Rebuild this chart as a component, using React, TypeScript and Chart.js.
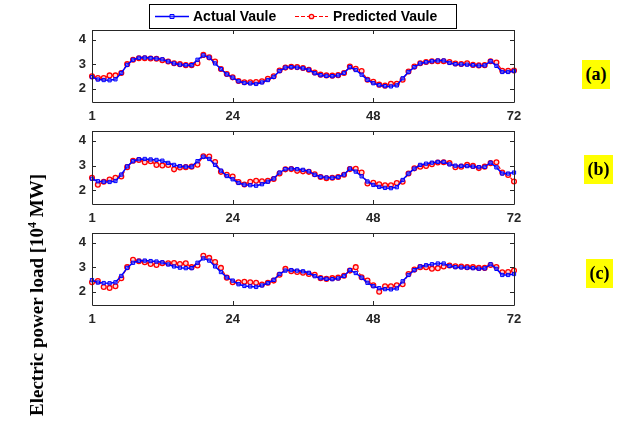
import React, { useEffect, useRef } from "react";
import { Chart, registerables } from "chart.js";

Chart.register(...registerables);

// ---- data ----
const hours = Array.from({ length: 73 }, (_, i) => i);
const xTicks = [0, 24, 48, 72];
const xTickLabels = ["1", "24", "48", "72"];
const yTicks = [2, 3, 4];

const actual = [
  2.47, 2.37, 2.35, 2.34, 2.38, 2.64, 2.97, 3.18, 3.26, 3.27, 3.25, 3.23, 3.2, 3.11, 3.03, 2.98, 2.96, 2.96,
  3.18, 3.36, 3.27, 3.03, 2.8, 2.58, 2.45, 2.3, 2.23, 2.21, 2.19, 2.25, 2.35, 2.48, 2.72, 2.86, 2.88, 2.86,
  2.83, 2.77, 2.63, 2.55, 2.52, 2.51, 2.54, 2.64, 2.88, 2.76, 2.57, 2.36, 2.22, 2.14, 2.1, 2.09, 2.13, 2.42,
  2.68, 2.88, 3.03, 3.08, 3.12, 3.15, 3.15, 3.05, 3.0, 2.99, 2.98, 2.96, 2.94, 2.95, 3.12, 2.93, 2.68, 2.68, 2.72,
];

const predA = [
  2.5, 2.43, 2.43, 2.54, 2.54, 2.64, 3.0, 3.18, 3.24, 3.24, 3.23, 3.22, 3.16, 3.11, 3.04, 3.0, 2.96, 2.96,
  3.04, 3.38, 3.28, 3.11, 2.8, 2.6, 2.46, 2.31, 2.26, 2.26, 2.27, 2.3, 2.4, 2.5, 2.74, 2.86, 2.89, 2.88,
  2.84, 2.77, 2.66, 2.57, 2.54, 2.53, 2.55, 2.64, 2.9, 2.81, 2.72, 2.36, 2.28, 2.16, 2.12, 2.2, 2.2, 2.36,
  2.7, 2.9, 3.04, 3.09, 3.12, 3.12, 3.12, 3.09, 3.03, 3.01, 3.04, 2.97, 2.95, 2.96, 3.12, 3.07, 2.73, 2.73, 2.74,
];

const predB = [
  2.51, 2.23, 2.35, 2.44, 2.51, 2.56, 2.94, 3.2, 3.23, 3.14, 3.18, 3.03, 3.01, 3.03, 2.85, 2.93, 2.94, 2.96,
  3.04, 3.38, 3.37, 3.15, 2.75, 2.63, 2.56, 2.34, 2.24, 2.35, 2.39, 2.37, 2.39, 2.46, 2.68, 2.85, 2.86, 2.79,
  2.77, 2.75, 2.65, 2.54, 2.49, 2.51, 2.54, 2.63, 2.86, 2.87, 2.72, 2.28, 2.31, 2.25, 2.21, 2.21, 2.3, 2.35,
  2.68, 2.89, 2.96, 2.99, 3.06, 3.13, 3.14, 3.1, 2.94, 2.96, 3.03, 2.99, 2.9, 2.96, 3.1, 3.14, 2.72, 2.62, 2.36,
];

const predC = [
  2.38, 2.43, 2.19, 2.15, 2.22, 2.55, 3.0, 3.3, 3.24, 3.2, 3.13, 3.09, 3.16, 3.16, 3.17, 3.13, 3.16, 3.0,
  3.07, 3.47, 3.38, 3.21, 2.97, 2.57, 2.38, 2.38, 2.4, 2.38, 2.36, 2.29, 2.36, 2.45, 2.69, 2.93, 2.83, 2.8,
  2.77, 2.72, 2.69, 2.55, 2.52, 2.55, 2.57, 2.65, 2.86, 3.0, 2.59, 2.45, 2.26, 1.99, 2.22, 2.22, 2.26, 2.3,
  2.72, 2.9, 3.0, 3.0, 2.94, 2.96, 3.03, 3.07, 3.04, 3.03, 3.0, 3.0, 2.97, 2.97, 3.09, 3.01, 2.79, 2.8, 2.86,
];

const seriesNames = ["Actual Vaule", "Predicted Vaule"];
const panelNames = ["(a)", "(b)", "(c)"];

// ---- layout ----
const W = 644;
const H = 425;
const panels = [
  { pred: predA, top: 30, bottom: 102, label: { left: 582, top: 60, w: 28 } },
  { pred: predB, top: 131, bottom: 204, label: { left: 584, top: 155, w: 29 } },
  { pred: predC, top: 233, bottom: 305, label: { left: 586, top: 259, w: 27 } },
];
const AREA_LEFT = 92;
const AREA_RIGHT = 514;
const SANS = '"Liberation Sans", Arial, sans-serif';
const SERIF = '"Liberation Serif", "Times New Roman", serif';
const AXIS_COLOR = "#262626";

const boxPlugin = {
  id: "matlabBox",
  afterDraw(chart: any) {
    const { ctx, chartArea: a, scales } = chart;
    ctx.save();
    ctx.strokeStyle = AXIS_COLOR;
    ctx.lineWidth = 1;
    ctx.beginPath();
    ctx.rect(Math.round(a.left) + 0.5, Math.round(a.top) + 0.5, Math.round(a.right - a.left), Math.round(a.bottom - a.top));
    ctx.stroke();
    const tl = 4;
    ctx.beginPath();
    scales.y.ticks.forEach((t: any) => {
      const y = Math.round(scales.y.getPixelForValue(t.value)) + 0.5;
      ctx.moveTo(a.left, y);
      ctx.lineTo(a.left + tl, y);
      ctx.moveTo(a.right, y);
      ctx.lineTo(a.right - tl, y);
    });
    scales.x.ticks.forEach((t: any) => {
      const x = Math.round(scales.x.getPixelForValue(t.value)) + 0.5;
      ctx.moveTo(x, a.bottom);
      ctx.lineTo(x, a.bottom - tl);
      ctx.moveTo(x, a.top);
      ctx.lineTo(x, a.top + tl);
    });
    ctx.stroke();
    ctx.restore();
  },
};

const legendPlugin = {
  id: "matlabLegend",
  afterDraw(chart: any) {
    const ctx = chart.ctx;
    const ds = chart.data.datasets;
    ctx.save();
    const bx = 149, by = 4, bw = 307, bh = 24;
    ctx.fillStyle = "#ffffff";
    ctx.fillRect(bx, by, bw, bh);
    ctx.strokeStyle = "#000000";
    ctx.lineWidth = 1;
    ctx.strokeRect(bx + 0.5, by + 0.5, bw, bh);
    const cy = by + bh / 2 + 0.5;
    const items = [
      { x0: 155, x1: 189, tx: 193 },
      { x0: 295, x1: 328, tx: 333 },
    ];
    items.forEach((it, k) => {
      const d = ds[k];
      ctx.strokeStyle = d.borderColor;
      ctx.lineWidth = d.borderWidth;
      ctx.setLineDash(d.borderDash || []);
      ctx.beginPath();
      ctx.moveTo(it.x0, cy);
      ctx.lineTo(it.x1, cy);
      ctx.stroke();
      ctx.setLineDash([]);
      const mx = (it.x0 + it.x1) / 2;
      ctx.fillStyle = d.pointBackgroundColor;
      ctx.strokeStyle = d.pointBorderColor;
      ctx.lineWidth = d.pointBorderWidth;
      ctx.beginPath();
      if (d.pointStyle === "rect") {
        ctx.rect(mx - 2, cy - 2, 4, 4);
      } else {
        ctx.arc(mx, cy, 2.2, 0, Math.PI * 2);
      }
      ctx.fill();
      ctx.stroke();
      ctx.fillStyle = "#000000";
      ctx.font = `bold 14px ${SANS}`;
      ctx.textBaseline = "middle";
      ctx.textAlign = "left";
      ctx.fillText(d.label, it.tx, cy + 0.5);
    });
    ctx.restore();
  },
};

function Panel({ index }: { index: number }) {
  const ref = useRef<HTMLCanvasElement | null>(null);
  useEffect(() => {
    const p = panels[index];
    const chart = new Chart(ref.current as HTMLCanvasElement, {
      type: "line",
      data: {
        datasets: [
          {
            label: seriesNames[0],
            data: actual.map((y, i) => ({ x: hours[i], y })),
            borderColor: "#0000ff",
            borderWidth: 1.5,
            pointStyle: "rect",
            pointRadius: 2.3,
            pointBackgroundColor: "rgba(120,120,255,0.55)",
            pointBorderColor: "#0000ff",
            pointBorderWidth: 1,
            tension: 0,
            clip: false,
          } as any,
          {
            label: seriesNames[1],
            data: p.pred.map((y, i) => ({ x: hours[i], y })),
            borderColor: "#ff0000",
            borderWidth: 1.2,
            borderDash: [4, 2],
            pointStyle: "circle",
            pointRadius: 2.4,
            pointBackgroundColor: "#ffd6d6",
            pointBorderColor: "#ff0000",
            pointBorderWidth: 1.3,
            tension: 0,
            clip: false,
          } as any,
        ],
      },
      options: {
        animation: false,
        responsive: false,
        maintainAspectRatio: false,
        events: [],
        layout: { padding: { top: p.top, left: 0, right: W - AREA_RIGHT, bottom: 0 } },
        plugins: { legend: { display: false }, tooltip: { enabled: false } },
        scales: {
          x: {
            type: "linear",
            min: 0,
            max: 72,
            afterBuildTicks: (s: any) => {
              s.ticks = xTicks.map((v) => ({ value: v }));
            },
            afterFit: (s: any) => {
              s.height = H - p.bottom;
            },
            grid: { display: false, drawTicks: false },
            border: { display: false },
            ticks: {
              autoSkip: false,
              maxRotation: 0,
              padding: 7,
              color: AXIS_COLOR,
              font: { family: SANS, size: 13, weight: "bold" },
              callback: (v: any) => xTickLabels[xTicks.indexOf(Number(v))],
            },
          },
          y: {
            type: "linear",
            min: 1.45,
            max: 4.4,
            afterBuildTicks: (s: any) => {
              s.ticks = yTicks.map((v) => ({ value: v }));
            },
            afterFit: (s: any) => {
              s.width = AREA_LEFT;
            },
            grid: { display: false, drawTicks: false },
            border: { display: false },
            ticks: {
              padding: 6,
              color: AXIS_COLOR,
              font: { family: SANS, size: 13, weight: "bold" },
              callback: (v: any) => String(v),
            },
          },
        },
      } as any,
      plugins: index === 0 ? [boxPlugin, legendPlugin] : [boxPlugin],
    });
    return () => chart.destroy();
  }, [index]);
  return (
    <canvas
      ref={ref}
      width={W}
      height={H}
      style={{ position: "absolute", left: 0, top: 0, width: W, height: H }}
    />
  );
}

export default function App() {
  return (
    <div style={{ position: "absolute", left: 0, top: 0, width: W, height: H, background: "#ffffff", overflow: "hidden" }}>
      {panels.map((_, i) => (
        <Panel key={i} index={i} />
      ))}
      {panels.map((p, i) => (
        <div
          key={"lab" + i}
          style={{
            position: "absolute",
            left: p.label.left,
            top: p.label.top,
            width: p.label.w,
            height: 29,
            lineHeight: "29px",
            background: "#ffff00",
            textAlign: "center",
            fontFamily: SERIF,
            fontWeight: "bold",
            fontSize: 18,
            color: "#000",
          }}
        >
          {panelNames[i]}
        </div>
      ))}
      <div
        style={{
          position: "absolute",
          left: 37,
          top: 295,
          transform: "translate(-50%, -50%) rotate(-90deg)",
          whiteSpace: "nowrap",
          fontFamily: SERIF,
          fontWeight: "bold",
          fontSize: 19,
          color: "#000",
        }}
      >
        Electric power load [10<sup style={{ fontSize: 12, verticalAlign: "super", lineHeight: 0 }}>4</sup> MW]
      </div>
    </div>
  );
}
